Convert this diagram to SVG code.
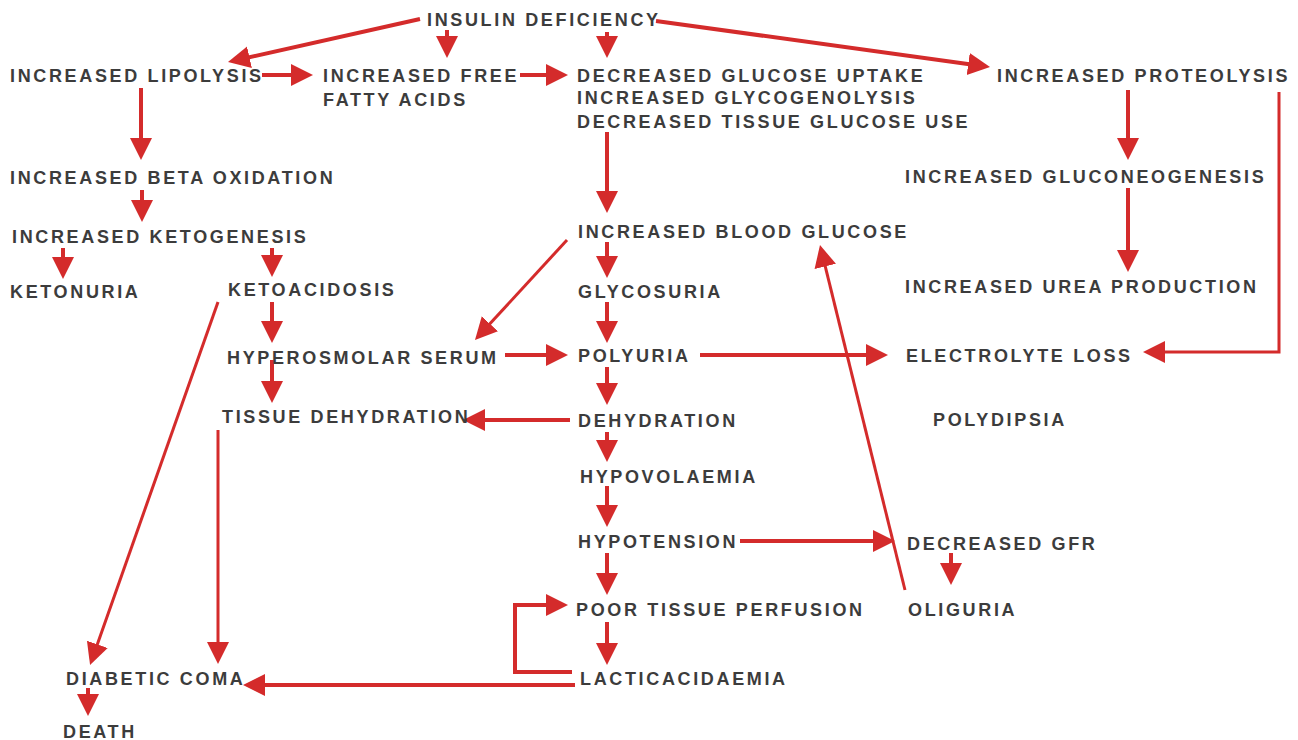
<svg xmlns="http://www.w3.org/2000/svg" width="1298" height="740" viewBox="0 0 1298 740">
<defs>
<marker id="ah" markerUnits="userSpaceOnUse" markerWidth="24" markerHeight="24" refX="14" refY="11" orient="auto" viewBox="0 0 24 24">
<path d="M0,0 L22,11 L0,22 Z" fill="#d42b2b"/>
</marker>
<style>
.t{font-family:"Liberation Sans",Arial,sans-serif;font-size:18px;font-weight:bold;fill:#3c3c3c;letter-spacing:2.65px}
.c{fill:none;stroke:#d42b2b;stroke-width:4}
.c.thin{stroke-width:3}
.a{marker-end:url(#ah)}
</style>
</defs>
<rect width="1298" height="740" fill="#ffffff"/>
<g id="connectors">
<line class="c a" x1="420" y1="19" x2="235.8" y2="60.3"/>
<line class="c a" x1="447" y1="30" x2="447" y2="50"/>
<line class="c a" x1="607" y1="32" x2="607" y2="50"/>
<line class="c a" x1="656" y1="21" x2="982.1" y2="65.9"/>
<line class="c a" x1="262" y1="75" x2="305" y2="75"/>
<line class="c a" x1="520" y1="75" x2="560" y2="75"/>
<line class="c a" x1="141" y1="88" x2="141" y2="152"/>
<line class="c a" x1="142" y1="190" x2="142" y2="214"/>
<line class="c a" x1="63" y1="248" x2="63" y2="271"/>
<line class="c a" x1="272" y1="248" x2="272" y2="269"/>
<line class="c a" x1="607" y1="132" x2="607" y2="205"/>
<line class="c a" x1="607" y1="242" x2="607" y2="270"/>
<line class="c thin a" x1="567" y1="240" x2="480.4" y2="334.1"/>
<line class="c a" x1="607" y1="302" x2="607" y2="335"/>
<line class="c a" x1="272" y1="302" x2="272" y2="335"/>
<line class="c a" x1="505" y1="355" x2="560" y2="355"/>
<line class="c a" x1="272" y1="360" x2="272" y2="395"/>
<line class="c a" x1="700" y1="355" x2="880" y2="355"/>
<line class="c a" x1="1128" y1="90" x2="1128" y2="152"/>
<line class="c a" x1="1128" y1="188" x2="1128" y2="264"/>
<polyline class="c thin a" points="1279,92 1279,352 1151,352"/>
<line class="c a" x1="607" y1="367" x2="607" y2="397"/>
<line class="c a" x1="570" y1="420" x2="471" y2="420"/>
<line class="c a" x1="607" y1="432" x2="607" y2="454"/>
<line class="c a" x1="607" y1="486" x2="607" y2="519"/>
<line class="c a" x1="740" y1="541" x2="887" y2="541"/>
<line class="c a" x1="607" y1="553" x2="607" y2="587"/>
<line class="c a" x1="951" y1="553" x2="951" y2="577"/>
<line class="c thin a" x1="905" y1="590" x2="821.9" y2="252.8"/>
<line class="c a" x1="607" y1="622" x2="607" y2="657"/>
<polyline class="c a" points="572,672 515,672 515,605 560,605"/>
<line class="c a" x1="575" y1="685" x2="251" y2="685"/>
<line class="c thin a" x1="218" y1="430" x2="218" y2="656"/>
<line class="c thin a" x1="218" y1="302" x2="92.7" y2="657.5"/>
<line class="c a" x1="88" y1="688" x2="88" y2="708"/>
</g>
<g id="n_insulin"><text class="t" x="427" y="26">INSULIN DEFICIENCY</text></g>
<g id="n_lipolysis"><text class="t" x="10" y="82">INCREASED LIPOLYSIS</text></g>
<g id="n_ffa"><text class="t" x="323" y="82">INCREASED FREE</text><text class="t" x="323" y="106">FATTY ACIDS</text></g>
<g id="n_glucose"><text class="t" x="577" y="82">DECREASED GLUCOSE UPTAKE</text><text class="t" x="577" y="104">INCREASED GLYCOGENOLYSIS</text><text class="t" x="577" y="128">DECREASED TISSUE GLUCOSE USE</text></g>
<g id="n_proteolysis"><text class="t" x="997" y="82">INCREASED PROTEOLYSIS</text></g>
<g id="n_beta"><text class="t" x="10" y="184">INCREASED BETA OXIDATION</text></g>
<g id="n_gluconeo"><text class="t" x="905" y="183">INCREASED GLUCONEOGENESIS</text></g>
<g id="n_ketogenesis"><text class="t" x="12" y="243">INCREASED KETOGENESIS</text></g>
<g id="n_bloodglucose"><text class="t" x="578" y="238">INCREASED BLOOD GLUCOSE</text></g>
<g id="n_ketonuria"><text class="t" x="10" y="298">KETONURIA</text></g>
<g id="n_ketoacidosis"><text class="t" x="228" y="296">KETOACIDOSIS</text></g>
<g id="n_glycosuria"><text class="t" x="578" y="298">GLYCOSURIA</text></g>
<g id="n_urea"><text class="t" x="905" y="293">INCREASED UREA PRODUCTION</text></g>
<g id="n_hyperosmolar"><text class="t" x="227" y="364">HYPEROSMOLAR SERUM</text></g>
<g id="n_polyuria"><text class="t" x="578" y="362">POLYURIA</text></g>
<g id="n_electrolyte"><text class="t" x="906" y="362">ELECTROLYTE LOSS</text></g>
<g id="n_tissuedehyd"><text class="t" x="222" y="423">TISSUE DEHYDRATION</text></g>
<g id="n_dehydration"><text class="t" x="578" y="427">DEHYDRATION</text></g>
<g id="n_polydipsia"><text class="t" x="933" y="426">POLYDIPSIA</text></g>
<g id="n_hypovol"><text class="t" x="580" y="483">HYPOVOLAEMIA</text></g>
<g id="n_hypotension"><text class="t" x="578" y="548">HYPOTENSION</text></g>
<g id="n_gfr"><text class="t" x="907" y="550">DECREASED GFR</text></g>
<g id="n_poortissue"><text class="t" x="576" y="616">POOR TISSUE PERFUSION</text></g>
<g id="n_oliguria"><text class="t" x="908" y="616">OLIGURIA</text></g>
<g id="n_lactic"><text class="t" x="580" y="685">LACTICACIDAEMIA</text></g>
<g id="n_coma"><text class="t" x="66" y="685">DIABETIC COMA</text></g>
<g id="n_death"><text class="t" x="63" y="738">DEATH</text></g>
</svg>
